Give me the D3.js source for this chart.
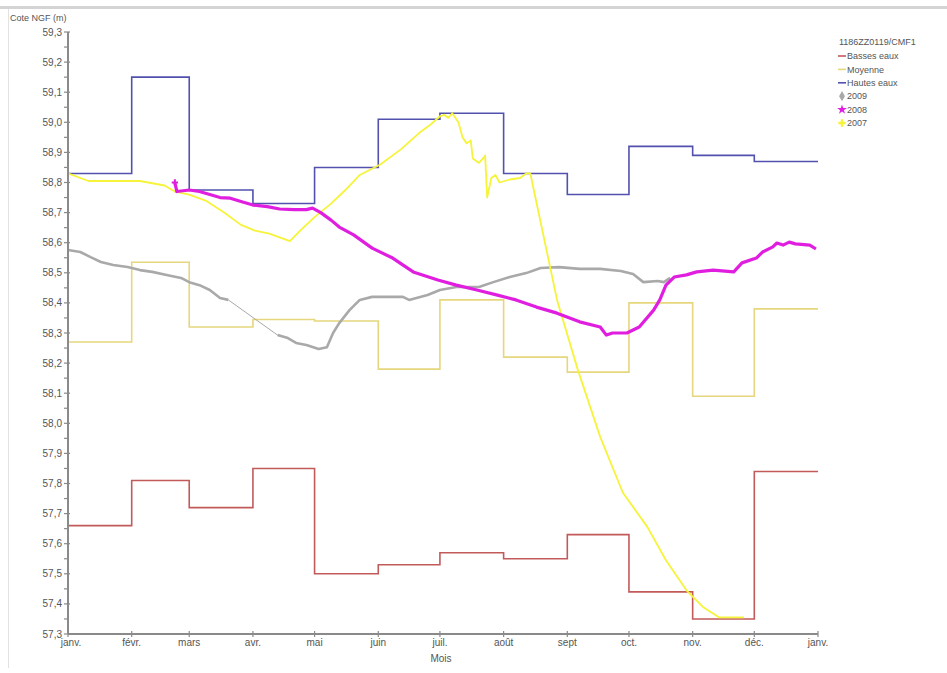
<!DOCTYPE html>
<html>
<head>
<meta charset="utf-8">
<script src="https://cdn.jsdelivr.net/npm/d3@7"></script>
<style>
  body { margin: 0; background: #fff; }
  svg { display: block; font-family: "Liberation Sans", Arial, sans-serif; }
</style>
</head>
<body>
<svg id="chart" width="947" height="673"></svg>
<script>
// ---------- DATA ----------
const monthLabels = ["janv.", "févr.", "mars", "avr.", "mai", "juin", "juil.", "août", "sept", "oct.", "nov.", "déc.", "janv."];
const yTicks = [57.3, 57.4, 57.5, 57.6, 57.7, 57.8, 57.9, 58.0, 58.1, 58.2, 58.3, 58.4, 58.5, 58.6, 58.7, 58.8, 58.9, 59.0, 59.1, 59.2, 59.3];

// monthly reference levels (Jan..Dec)
const bassesEaux = [57.66, 57.81, 57.72, 57.85, 57.50, 57.53, 57.57, 57.55, 57.63, 57.44, 57.35, 57.84];
const moyenne    = [58.27, 58.535, 58.32, 58.345, 58.34, 58.18, 58.41, 58.22, 58.17, 58.40, 58.09, 58.38];
const hautesEaux = [58.83, 59.15, 58.775, 58.73, 58.85, 59.01, 59.03, 58.83, 58.76, 58.92, 58.89, 58.87];

// yearly records [month-day, level]; null marks a data gap
const y2009 = [
  ["01-01",58.576],["01-07",58.569],["01-12",58.552],["01-17",58.536],["01-23",58.526],["01-30",58.519],
  ["02-05",58.509],["02-11",58.503],["02-18",58.493],["02-25",58.483],["03-01",58.469],["03-06",58.459],
  ["03-11",58.443],["03-16",58.416],["03-20",58.41],
  null,
  ["04-13",58.293],["04-18",58.283],["04-22",58.267],["04-27",58.26],["05-03",58.247],["05-07",58.253],
  ["05-10",58.30],["05-13",58.333],["05-18",58.376],["05-23",58.41],["05-29",58.42],["06-13",58.42],
  ["06-16",58.41],["06-25",58.426],["07-01",58.443],["07-09",58.453],["07-20",58.453],["07-27",58.469],
  ["08-04",58.486],["08-12",58.499],["08-19",58.516],["08-28",58.519],["09-07",58.513],["09-17",58.513],
  ["09-27",58.506],["10-03",58.496],["10-08",58.469],["10-15",58.473],["10-18",58.469],["10-21",58.483]
];
const y2008 = [
  ["02-22",58.80],["02-23",58.77],["03-01",58.775],["03-06",58.77],["03-11",58.76],["03-16",58.75],
  ["03-21",58.748],["03-27",58.735],["04-01",58.725],["04-08",58.72],["04-14",58.712],["04-21",58.71],
  ["04-27",58.71],["04-30",58.715],["05-04",58.70],["05-09",58.675],["05-13",58.652],["05-20",58.626],
  ["05-29",58.582],["06-08",58.549],["06-18",58.503],["06-30",58.476],["07-09",58.459],["07-19",58.443],
  ["07-29",58.426],["08-07",58.41],["08-17",58.386],["08-27",58.366],["09-07",58.337],["09-17",58.32],
  ["09-20",58.293],["09-23",58.30],["09-30",58.30],["10-06",58.32],["10-13",58.376],["10-16",58.41],
  ["10-19",58.459],["10-23",58.486],["10-29",58.493],["11-03",58.503],["11-11",58.509],["11-21",58.503],
  ["11-25",58.533],["12-02",58.549],["12-05",58.569],["12-10",58.586],["12-12",58.599],["12-15",58.592],
  ["12-18",58.602],["12-21",58.596],["12-28",58.592],["12-31",58.579]
];
const y2007 = [
  ["01-01",58.83],["01-11",58.805],["02-05",58.805],["02-17",58.79],["02-22",58.77],["03-01",58.76],
  ["03-09",58.74],["03-18",58.70],["03-26",58.66],["04-02",58.64],["04-09",58.63],["04-15",58.615],
  ["04-19",58.605],["04-24",58.64],["05-01",58.685],["05-09",58.73],["05-16",58.775],["05-23",58.825],
  ["06-02",58.86],["06-12",58.91],["06-21",58.965],["06-26",58.99],["07-01",59.02],["07-03",59.025],
  ["07-05",59.015],["07-07",59.03],["07-10",59.00],["07-12",58.95],["07-14",58.93],["07-16",58.94],
  ["07-17",58.88],["07-20",58.865],["07-22",58.88],["07-23",58.89],["07-24",58.75],["07-26",58.815],
  ["07-28",58.825],["07-30",58.80],["08-04",58.81],["08-09",58.815],["08-12",58.83],["08-14",58.83],
  ["08-27",58.41],["09-06",58.18],["09-17",57.955],["09-28",57.77],["10-10",57.655],["10-19",57.545],
  ["10-29",57.445],["11-06",57.39],["11-14",57.355],["11-21",57.355],["11-26",57.355]
];

const legendTitle = "1186ZZ0119/CMF1";
const yTitle = "Cote NGF (m)";
const xTitle = "Mois";

// ---------- CHART ----------
const svg = d3.select("#chart");
const BASE = 2009;
const parse = md => new Date(BASE + "-" + md + "T00:00:00");
const x = d3.scaleTime().domain([new Date(BASE, 0, 1), new Date(BASE + 1, 0, 1)]).range([68, 818]);
const y = d3.scaleLinear().domain([57.3, 59.3]).range([634, 32]);
const fmt = v => d3.format(".1f")(v).replace(".", ",");

// frame
svg.append("rect").attr("x", 0).attr("y", 6).attr("width", 947).attr("height", 3).attr("fill", "#d4d4d4");
svg.append("line").attr("x1", 8.5).attr("x2", 8.5).attr("y1", 9).attr("y2", 668).attr("stroke", "#e2e2e2");

// monthly steps
function stepData(vals) {
  const pts = vals.map((v, i) => [new Date(BASE, i, 1), v]);
  pts.push([new Date(BASE + 1, 0, 1), vals[vals.length - 1]]);
  return pts;
}
const stepLine = d3.line().x(d => x(d[0])).y(d => y(d[1])).curve(d3.curveStepAfter);
const stepSeries = [
  { name: "Basses eaux", vals: bassesEaux, color: "#c25a5a" },
  { name: "Moyenne", vals: moyenne, color: "#e6d67e" },
  { name: "Hautes eaux", vals: hautesEaux, color: "#5252ae" }
];
stepSeries.forEach(s => {
  svg.append("path").attr("d", stepLine(stepData(s.vals)))
    .attr("fill", "none").attr("stroke", s.color).attr("stroke-width", 1.6);
});

// yearly curves
const line = d3.line().defined(d => d !== null).x(d => x(parse(d[0]))).y(d => y(d[1]));
const c2009 = "#a9a9a9", c2008 = "#e01ee0", c2007 = "#f6f43a";

// 2009: thin connector across gap + thick measured segments
svg.append("path").attr("d", line(y2009.filter(d => d !== null)))
  .attr("fill", "none").attr("stroke", c2009).attr("stroke-width", 1);
svg.append("path").attr("d", line(y2009))
  .attr("fill", "none").attr("stroke", c2009).attr("stroke-width", 2.6).attr("stroke-linejoin", "round");

// 2007
svg.append("path").attr("d", line(y2007))
  .attr("fill", "none").attr("stroke", c2007).attr("stroke-width", 1.8).attr("stroke-linejoin", "round");

// 2008
svg.append("path").attr("d", line(y2008))
  .attr("fill", "none").attr("stroke", c2008).attr("stroke-width", 3.2).attr("stroke-linejoin", "round");
svg.append("path")
  .attr("d", d3.symbol().type(d3.symbolCross).size(22)())
  .attr("transform", `translate(${x(parse(y2008[0][0]))},${y(y2008[0][1])})`)
  .attr("fill", c2008);

// axes
const axisColor = "#8a8a8a";
const minorTicks = yTicks.slice(0, -1).map(v => v + 0.05);
const gy = svg.append("g");
minorTicks.forEach(v => {
  gy.append("line").attr("x1", 64).attr("x2", 68).attr("y1", y(v)).attr("y2", y(v)).attr("stroke", axisColor).attr("stroke-width", 1.2);
});
yTicks.forEach(v => {
  gy.append("line").attr("x1", 64).attr("x2", 70).attr("y1", y(v)).attr("y2", y(v)).attr("stroke", axisColor).attr("stroke-width", 1.2);
  gy.append("text").attr("x", 62).attr("y", y(v)).attr("dy", "0.35em").attr("text-anchor", "end")
    .attr("font-size", 10).attr("fill", "#555").text(fmt(v));
});
gy.append("line").attr("x1", 68).attr("x2", 68).attr("y1", y(59.3)).attr("y2", y(57.3))
  .attr("stroke", axisColor).attr("stroke-width", 2);

const monthDates = d3.range(13).map(i => new Date(BASE, i, 1));
const gx = svg.append("g");
gx.append("line").attr("x1", x.range()[0]).attr("x2", x.range()[1]).attr("y1", 634).attr("y2", 634)
  .attr("stroke", axisColor).attr("stroke-width", 2);
monthDates.forEach((d, i) => {
  gx.append("line").attr("x1", x(d)).attr("x2", x(d)).attr("y1", 631).attr("y2", 637).attr("stroke", axisColor).attr("stroke-width", 1.2);
  gx.append("text").attr("x", x(d) + (i === 0 ? 3 : 0)).attr("y", 646).attr("text-anchor", "middle")
    .attr("font-size", 10).attr("fill", "#555").text(monthLabels[i]);
});
svg.append("text").attr("x", 441).attr("y", 662).attr("text-anchor", "middle")
  .attr("font-size", 10).attr("fill", "#555").text(xTitle);
svg.append("text").attr("x", 10).attr("y", 21).attr("font-size", 9).attr("fill", "#555").text(yTitle);

// legend
const lg = svg.append("g").attr("transform", "translate(837,0)");
lg.append("text").attr("x", 2).attr("y", 45).attr("font-size", 9).attr("fill", "#555").text(legendTitle);
const legendItems = [
  { name: "Basses eaux", color: "#c25a5a", kind: "line" },
  { name: "Moyenne", color: "#e6d67e", kind: "line" },
  { name: "Hautes eaux", color: "#5252ae", kind: "line" },
  { name: "2009", color: c2009, kind: d3.symbolDiamond },
  { name: "2008", color: c2008, kind: d3.symbolStar },
  { name: "2007", color: c2007, kind: d3.symbolCross }
];
legendItems.forEach((it, i) => {
  const yy = 56 + i * 13.4;
  if (it.kind === "line") {
    lg.append("line").attr("x1", 1).attr("x2", 9).attr("y1", yy).attr("y2", yy).attr("stroke", it.color).attr("stroke-width", 1.6);
  } else {
    lg.append("path").attr("d", d3.symbol().type(it.kind).size(30)()).attr("transform", `translate(5,${yy})`).attr("fill", it.color);
  }
  lg.append("text").attr("x", 10).attr("y", yy).attr("dy", "0.35em").attr("font-size", 9).attr("fill", "#555").text(it.name);
});
</script>
</body>
</html>
